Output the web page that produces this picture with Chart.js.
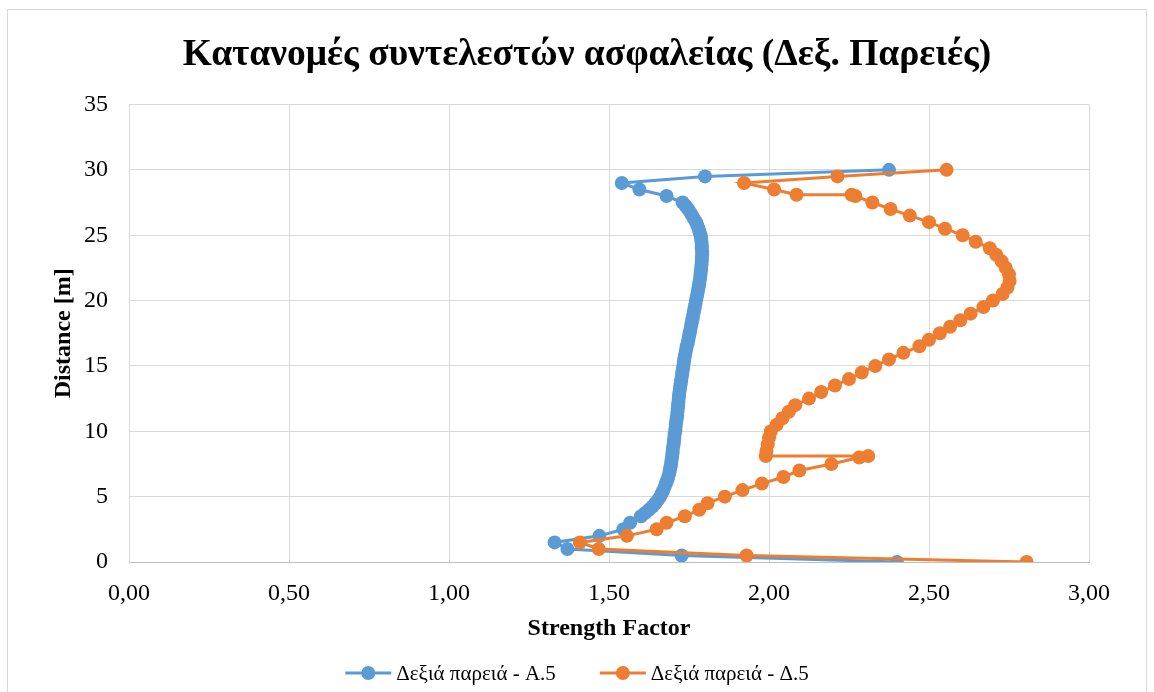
<!DOCTYPE html>
<html>
<head>
<meta charset="utf-8">
<script src="https://cdn.jsdelivr.net/npm/chart.js@4.4.1/dist/chart.umd.min.js"></script>
<style>
  html, body { margin: 0; padding: 0; background: #fff; }
  #wrap { position: relative; width: 1154px; height: 692px; }
  #frame { position: absolute; left: 7px; top: 9px; width: 1138px; height: 690px; border: 1px solid #d9d9d9; pointer-events: none; }
</style>
</head>
<body>
<div id="wrap">
  <canvas id="chart" width="1154" height="692"></canvas>
  <div id="frame"></div>
</div>
<script>
// Δεξιά παρειά - Α.5
const a5Dist = [0, 0.5, 1, 1.5, 2, 2.5, 3, 3.5, 3.75, 4, 4.25, 4.5, 4.75, 5, 5.25, 5.5, 5.75, 6, 6.25, 6.5, 6.75,
  7, 7.25, 7.5, 7.75, 8, 8.25, 8.5, 8.75, 9, 9.25, 9.5, 9.75, 10, 10.25, 10.5, 10.75, 11, 11.25, 11.5, 11.75,
  12, 12.25, 12.5, 12.75, 13, 13.25, 13.5, 13.75, 14, 14.25, 14.5, 14.75, 15, 15.25, 15.5, 15.75, 16, 16.25,
  16.5, 16.75, 17, 17.25, 17.5, 17.75, 18, 18.25, 18.5, 18.75, 19, 19.25, 19.5, 19.75, 20, 20.25, 20.5, 20.75,
  21, 21.25, 21.5, 21.75, 22, 22.25, 22.5, 22.75, 23, 23.25, 23.5, 23.75, 24, 24.25, 24.5, 24.75, 25, 25.25,
  25.5, 25.75, 26, 26.25, 26.5, 26.75, 27, 27.25, 27.5, 28, 28.5, 29, 29.5, 30];
const a5Factor = [2.40, 1.727, 1.37, 1.33, 1.47, 1.545, 1.566, 1.600, 1.613, 1.625, 1.636, 1.645, 1.653, 1.660,
  1.665, 1.670, 1.674, 1.678, 1.682, 1.685, 1.688, 1.690, 1.692, 1.694, 1.695, 1.697, 1.698, 1.699, 1.700,
  1.702, 1.703, 1.704, 1.705, 1.707, 1.708, 1.709, 1.710, 1.712, 1.713, 1.714, 1.715, 1.716, 1.717, 1.718,
  1.719, 1.720, 1.722, 1.723, 1.725, 1.726, 1.728, 1.729, 1.731, 1.732, 1.734, 1.735, 1.737, 1.739, 1.741,
  1.743, 1.746, 1.748, 1.750, 1.752, 1.754, 1.756, 1.758, 1.760, 1.762, 1.764, 1.766, 1.768, 1.770, 1.772,
  1.774, 1.776, 1.778, 1.780, 1.782, 1.783, 1.785, 1.786, 1.787, 1.788, 1.789, 1.790, 1.790, 1.791, 1.791,
  1.790, 1.790, 1.789, 1.788, 1.786, 1.783, 1.780, 1.776, 1.772, 1.766, 1.760, 1.754, 1.747, 1.739, 1.730,
  1.68, 1.595, 1.54, 1.80, 2.375];

// Δεξιά παρειά - Δ.5
const d5Dist = [0, 0.5, 1, 1.5, 2, 2.5, 3, 3.5, 4, 4.5, 5, 5.5, 6, 6.5, 7, 7.5, 8, 8.1, 8.1, 8.5, 9, 9.5, 10,
  10.5, 11, 11.5, 12, 12.5, 13, 13.5, 14, 14.5, 15, 15.5, 16, 16.5, 17, 17.5, 18, 18.5, 19, 19.5, 20, 20.5,
  21, 21.5, 22, 22.5, 23, 23.5, 24, 24.5, 25, 25.5, 26, 26.5, 27, 27.5, 28, 28.1, 28.1, 28.5, 29, 29.5, 30];
const d5Factor = [2.805, 1.93, 1.468, 1.409, 1.556, 1.649, 1.68, 1.737, 1.782, 1.808, 1.862, 1.917, 1.978,
  2.045, 2.095, 2.195, 2.282, 2.31, 1.99, 1.992, 1.996, 2.0, 2.006, 2.024, 2.042, 2.062, 2.082, 2.125, 2.163,
  2.206, 2.25, 2.29, 2.332, 2.375, 2.42, 2.47, 2.50, 2.534, 2.566, 2.598, 2.63, 2.67, 2.70, 2.73, 2.745, 2.752,
  2.75, 2.74, 2.727, 2.71, 2.69, 2.646, 2.605, 2.55, 2.50, 2.44, 2.38, 2.323, 2.27, 2.258, 2.086, 2.016, 1.922,
  2.214, 2.555];

const xTicksMax = 3;
const xStep = 0.5;
const yTicksMax = 35;
const yStep = 5;

const chartTitle = 'Κατανομές συντελεστών ασφαλείας (Δεξ. Παρειές)';

const BLUE = '#5B9BD5';
const ORANGE = '#ED7D31';
const SERIF = '"Liberation Serif", "Times New Roman", serif';

function pairs(xs, ys) {
  return xs.map((x, i) => ({ x: x, y: ys[i] }));
}

const whiteBg = {
  id: 'whiteBg',
  beforeDraw(chart) {
    const c = chart.ctx;
    c.save();
    c.fillStyle = '#fff';
    c.fillRect(0, 0, chart.width, chart.height);
    c.restore();
  }
};

// title is centred on the whole chart box (like Excel), not on the padded area
const boxTitle = {
  id: 'boxTitle',
  afterDraw(chart) {
    const c = chart.ctx;
    c.save();
    c.font = 'bold 37.5px ' + SERIF;
    c.fillStyle = '#000';
    c.textAlign = 'center';
    c.textBaseline = 'middle';
    c.fillText(chartTitle, 587, 55);
    c.restore();
  }
};

// Excel-like legend: short line with a marker in the middle, then the label
const lineLegend = {
  id: 'lineLegend',
  afterDraw(chart) {
    const c = chart.ctx;
    const sets = chart.data.datasets;
    const lineLen = 46, gapText = 5, gapItem = 44, y = 673;
    c.save();
    c.font = '21px ' + SERIF;
    c.textBaseline = 'middle';
    const widths = sets.map(ds => c.measureText(ds.label).width);
    let total = 0;
    widths.forEach((w, i) => { total += lineLen + gapText + w + (i ? gapItem : 0); });
    let x = chart.width / 2 - total / 2;
    sets.forEach((ds, i) => {
      c.strokeStyle = ds.borderColor;
      c.lineWidth = 3;
      c.beginPath();
      c.moveTo(x, y);
      c.lineTo(x + lineLen, y);
      c.stroke();
      c.fillStyle = ds.backgroundColor;
      c.beginPath();
      c.arc(x + lineLen / 2, y, 7, 0, Math.PI * 2);
      c.fill();
      c.fillStyle = '#000';
      c.fillText(ds.label, x + lineLen + gapText, y + 1);
      x += lineLen + gapText + widths[i] + gapItem;
    });
    c.restore();
  }
};

const ctx = document.getElementById('chart').getContext('2d');

new Chart(ctx, {
  type: 'scatter',
  data: {
    datasets: [
      {
        label: 'Δεξιά παρειά - Α.5',
        data: pairs(a5Factor, a5Dist),
        showLine: true,
        borderColor: BLUE,
        backgroundColor: BLUE,
        borderWidth: 3,
        pointRadius: 7,
        pointHoverRadius: 7,
        pointBorderWidth: 0,
        order: 1
      },
      {
        label: 'Δεξιά παρειά - Δ.5',
        data: pairs(d5Factor, d5Dist),
        showLine: true,
        borderColor: ORANGE,
        backgroundColor: ORANGE,
        borderWidth: 3,
        pointRadius: 7,
        pointHoverRadius: 7,
        pointBorderWidth: 0,
        order: 0
      }
    ]
  },
  options: {
    responsive: false,
    animation: false,
    layout: { padding: { left: 20, right: 65, top: 104.5, bottom: 40 } },
    scales: {
      x: {
        type: 'linear',
        min: 0,
        max: xTicksMax,
        afterFit: (s) => { s.height = 90; },
        grid: { color: '#d9d9d9', lineWidth: 1, drawTicks: false },
        border: { display: true, color: '#bfbfbf', width: 1 },
        ticks: {
          stepSize: xStep,
          padding: 17,
          color: '#000',
          font: { family: SERIF, size: 24 },
          callback: (v) => v.toFixed(2).replace('.', ',')
        },
        title: {
          display: true,
          text: 'Strength Factor',
          color: '#000',
          font: { family: SERIF, size: 24, weight: 'bold' },
          padding: { top: 0, bottom: 9 }
        }
      },
      y: {
        type: 'linear',
        min: 0,
        max: yTicksMax,
        afterFit: (s) => { s.width = 109; },
        grid: { color: '#d9d9d9', lineWidth: 1, drawTicks: false },
        border: { display: false },
        ticks: {
          stepSize: yStep,
          padding: 21,
          color: '#000',
          font: { family: SERIF, size: 24 }
        },
        title: {
          display: true,
          text: 'Distance [m]',
          color: '#000',
          font: { family: SERIF, size: 24, weight: 'bold' },
          padding: { top: 29, bottom: 0 }
        }
      }
    },
    plugins: {
      title: { display: false },
      legend: { display: false },
      tooltip: { enabled: false }
    }
  },
  plugins: [whiteBg, boxTitle, lineLegend]
});
</script>
</body>
</html>
